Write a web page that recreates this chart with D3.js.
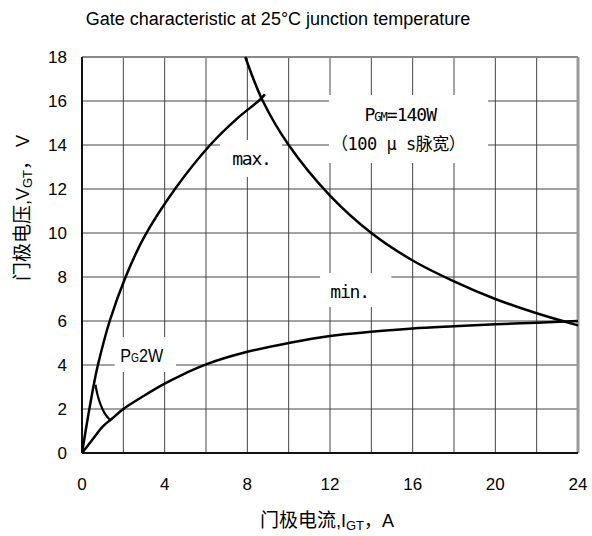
<!DOCTYPE html>
<html>
<head>
<meta charset="utf-8">
<script src="https://cdn.jsdelivr.net/npm/d3@7"></script>
<style>
body { margin: 0; background: #fff; }
</style>
</head>
<body>
<div id="chart"></div>
<script>
// values (A, V)
var xTicks = [0, 4, 8, 12, 16, 20, 24];
var yTicks = [0, 2, 4, 6, 8, 10, 12, 14, 16, 18];
var xGrid = [2, 4, 6, 8, 10, 12, 14, 16, 18, 20, 22];
var maxCurve = [[0,0],[0.3,1.7],[0.61,3.3],[0.77,4],[1.34,6],[2.1,7.98],[3.0,9.8],[4.5,12],[6.2,14],[7.5,15.2],[8.6,16.05],[8.85,16.3]];
var minCurve = [[0,0],[0.5,0.6],[1,1.2],[1.5,1.6],[2,2.0],[3,2.6],[4,3.15],[5,3.62],[6,4.03],[8,4.6],[10,5.0],[12,5.32],[14,5.51],[16,5.66],[18,5.76],[20,5.85],[22,5.92],[24,6.0]];
var pgmCurve = [[7.9,18],[8.75,16],[10,14],[12,11.7],[14,10],[16,8.75],[18,7.8],[20,7],[22,6.35],[24,5.8]];
var pg2Curve = [[0.65,3.1],[0.75,2.65],[0.9,2.2],[1.1,1.8],[1.4,1.45]];

var svg = d3.select("#chart").append("svg").attr("width", 592).attr("height", 536),
    margin = {top: 57, right: 14, bottom: 83, left: 82},
    width = 592 - margin.left - margin.right,
    height = 536 - margin.top - margin.bottom;

var x = d3.scaleLinear().domain([0, 24]).range([margin.left, margin.left + width]);
var y = d3.scaleLinear().domain([0, 18]).range([margin.top + height, margin.top]);

var sans = "'Liberation Sans', Arial, sans-serif";
var mono = "'DejaVu Sans Mono', monospace";
var cjk = "'Noto Sans CJK SC', sans-serif";

// title
svg.append("text")
    .attr("x", 278).attr("y", 25)
    .attr("text-anchor", "middle")
    .style("font-family", sans).style("font-size", "18px")
    .text("Gate characteristic at 25°C junction temperature");

// grid
var g = svg.append("g");
g.selectAll(".vg").data(xGrid).enter().append("line")
    .attr("x1", function(d){ return x(d); }).attr("x2", function(d){ return x(d); })
    .attr("y1", y(0)).attr("y2", y(18))
    .attr("stroke", "#444").attr("stroke-width", 1);
g.selectAll(".hg").data(yTicks.slice(1, -1)).enter().append("line")
    .attr("y1", function(d){ return y(d); }).attr("y2", function(d){ return y(d); })
    .attr("x1", x(0)).attr("x2", x(24))
    .attr("stroke", "#444").attr("stroke-width", 1);

// frame
svg.append("line").attr("x1", x(0)).attr("x2", x(24)).attr("y1", y(18)).attr("y2", y(18))
    .attr("stroke", "#888").attr("stroke-width", 2);
svg.append("line").attr("x1", x(24)).attr("x2", x(24)).attr("y1", y(0)).attr("y2", y(18))
    .attr("stroke", "#999").attr("stroke-width", 3);
svg.append("line").attr("x1", x(0)).attr("x2", x(0)).attr("y1", y(0)).attr("y2", y(18))
    .attr("stroke", "#111").attr("stroke-width", 2);
svg.append("line").attr("x1", x(0)).attr("x2", x(24)).attr("y1", y(0)).attr("y2", y(0))
    .attr("stroke", "#111").attr("stroke-width", 2);

// white boxes behind annotations
var boxes = [[11.95, 19.65, 16.27, 13.18], [6.68, 9.68, 14.23, 12.55], [11.52, 14.97, 8.18, 6.64], [1.58, 4.55, 5.27, 3.68]];
svg.selectAll(".box").data(boxes).enter().append("rect")
    .attr("x", function(d){ return x(d[0]); })
    .attr("y", function(d){ return y(d[2]); })
    .attr("width", function(d){ return x(d[1]) - x(d[0]); })
    .attr("height", function(d){ return y(d[3]) - y(d[2]); })
    .attr("fill", "#fff");

// curves
var line = d3.line().x(function(d){ return x(d[0]); }).y(function(d){ return y(d[1]); })
    .curve(d3.curveCatmullRom.alpha(0.5));
[maxCurve, minCurve, pgmCurve].forEach(function(c){
    svg.append("path").attr("d", line(c)).attr("fill", "none")
        .attr("stroke", "#000").attr("stroke-width", 2.5);
});
svg.append("path").attr("d", line(pg2Curve)).attr("fill", "none")
    .attr("stroke", "#000").attr("stroke-width", 2.2);

// tick labels
svg.selectAll(".xt").data(xTicks).enter().append("text")
    .attr("x", function(d){ return x(d); }).attr("y", 490)
    .attr("text-anchor", "middle")
    .style("font-family", sans).style("font-size", "17px")
    .text(function(d){ return d; });
svg.selectAll(".yt").data(yTicks).enter().append("text")
    .attr("x", 67).attr("y", function(d){ return y(d) + 6; })
    .attr("text-anchor", "end")
    .style("font-family", sans).style("font-size", "17px")
    .text(function(d){ return d; });

// annotations
var t1 = svg.append("text").attr("x", x(15.4)).attr("y", 121).attr("text-anchor", "middle")
    .style("font-family", mono).style("font-size", "18px").style("letter-spacing", "-1px");
t1.append("tspan").text("P");
t1.append("tspan").style("font-size", "12px").text("GM");
t1.append("tspan").text("=140W");
svg.append("text").attr("x", x(15.3)).attr("y", 150).attr("text-anchor", "middle")
    .style("font-family", mono + "," + cjk).style("font-size", "17px").style("letter-spacing", "-0.5px")
    .text("（100 μ s脉宽）");
svg.append("text").attr("x", x(8.2)).attr("y", 165).attr("text-anchor", "middle")
    .style("font-family", mono).style("font-size", "18px").style("letter-spacing", "-1.2px").text("max.");
svg.append("text").attr("x", x(12.95)).attr("y", 298).attr("text-anchor", "middle")
    .style("font-family", mono).style("font-size", "18px").style("letter-spacing", "-1.2px").text("min.");
var t2 = svg.append("text")
    .attr("transform", "translate(" + x(1.85) + ",362) scale(0.85,1)")
    .style("font-family", sans).style("font-size", "19px");
t2.append("tspan").text("P");
t2.append("tspan").style("font-size", "12px").text("G");
t2.append("tspan").text("2W");

// axis titles
var xt = svg.append("text").attr("x", 327).attr("y", 527).attr("text-anchor", "middle")
    .style("font-family", sans + "," + cjk).style("font-size", "18px");
xt.append("tspan").style("font-family", cjk).style("font-size", "19px").text("门极电流");
xt.append("tspan").text(",I");
xt.append("tspan").style("font-size", "13px").attr("dy", 3).text("GT");
xt.append("tspan").attr("dy", -3).style("font-family", cjk).text("，");
xt.append("tspan").text("A");

var yt = svg.append("text").attr("transform", "translate(29,208) rotate(-90)")
    .attr("text-anchor", "middle")
    .style("font-family", sans + "," + cjk).style("font-size", "18px");
yt.append("tspan").style("font-family", cjk).style("font-size", "19px").text("门极电压");
yt.append("tspan").text(",V");
yt.append("tspan").style("font-size", "13px").attr("dy", 3).text("GT");
yt.append("tspan").attr("dy", -3).style("font-family", cjk).text("，");
yt.append("tspan").text(" V");
</script>
</body>
</html>
